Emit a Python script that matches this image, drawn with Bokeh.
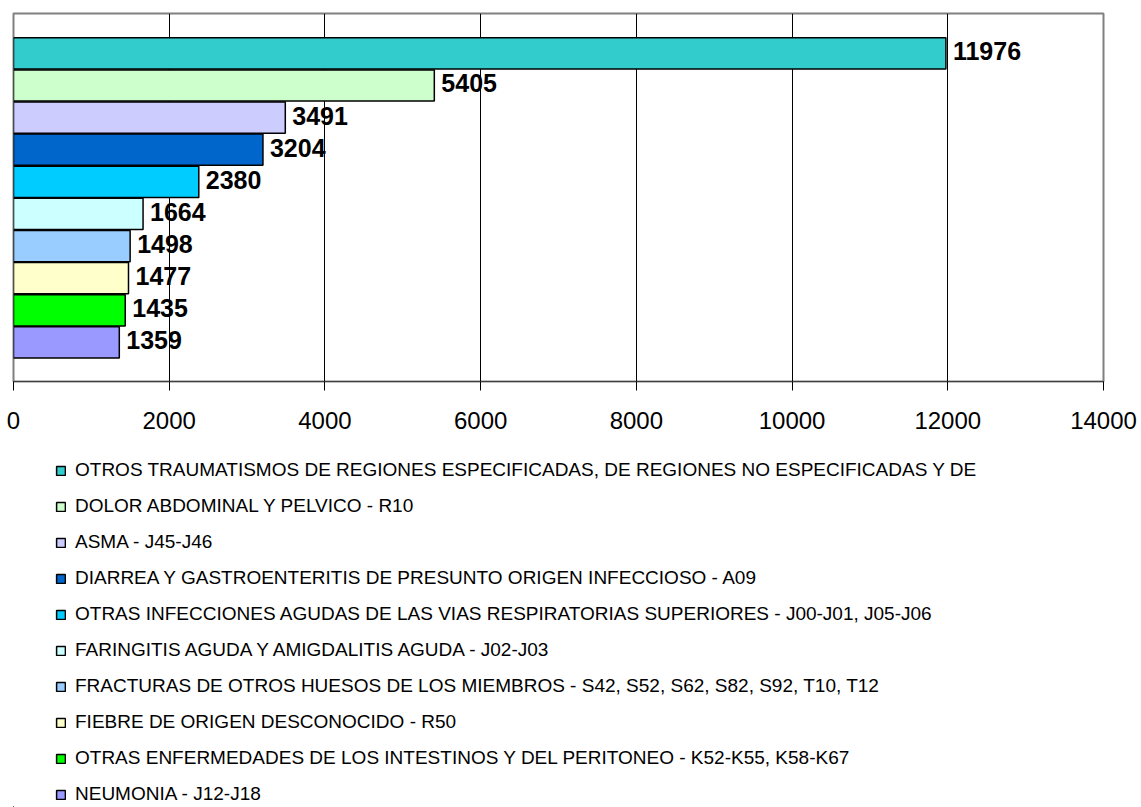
from bokeh.plotting import figure
from bokeh.layouts import column
from bokeh.models import ColumnDataSource, Range1d, FixedTicker, Legend, LegendItem
from bokeh.core.properties import value
from bokeh.embed import file_html
from bokeh.resources import INLINE

categories = [
    "OTROS TRAUMATISMOS DE REGIONES ESPECIFICADAS, DE REGIONES NO ESPECIFICADAS Y DE",
    "DOLOR ABDOMINAL Y PELVICO - R10",
    "ASMA - J45-J46",
    "DIARREA Y GASTROENTERITIS DE PRESUNTO ORIGEN INFECCIOSO - A09",
    "OTRAS INFECCIONES AGUDAS DE LAS VIAS RESPIRATORIAS SUPERIORES - J00-J01, J05-J06",
    "FARINGITIS AGUDA Y AMIGDALITIS AGUDA - J02-J03",
    "FRACTURAS DE OTROS HUESOS DE LOS MIEMBROS - S42, S52, S62, S82, S92, T10, T12",
    "FIEBRE DE ORIGEN DESCONOCIDO - R50",
    "OTRAS ENFERMEDADES DE LOS INTESTINOS Y DEL PERITONEO - K52-K55, K58-K67",
    "NEUMONIA - J12-J18",
]
values = [11976, 5405, 3491, 3204, 2380, 1664, 1498, 1477, 1435, 1359]
colors = ["#33CCCC", "#CCFFCC", "#CCCCFF", "#0066CC", "#00CCFF",
          "#CCFFFF", "#99CCFF", "#FFFFCC", "#00FF00", "#9999FF"]
x_ticks = [0, 2000, 4000, 6000, 8000, 10000, 12000, 14000]
grid_ticks = [2000, 4000, 6000, 8000, 10000, 12000]

FONT = "'Liberation Sans', Arial, sans-serif"

positions = list(range(len(categories)))
source = ColumnDataSource(dict(
    y=positions,
    v=values,
    color=colors,
    label=[str(v) for v in values],
    cat=categories,
))

# ---- main chart ----
p = figure(width=1141, height=450, output_backend="svg", toolbar_location=None,
           x_range=Range1d(0, 14000), y_range=Range1d(10.216, -1.24),
           min_border_left=13, min_border_right=38, min_border_top=13, min_border_bottom=69)

r = p.hbar(y="y", right="v", left=0, height=0.97, fill_color="color",
           line_color="black", line_width=1.5, source=source)

p.text(x="v", y="y", text="label", source=source, x_offset=7, y_offset=-2,
       text_font=value(FONT), text_font_style="bold", text_font_size="25px",
       text_baseline="middle", text_align="left", text_color="black")

p.yaxis.visible = False
p.ygrid.visible = False
p.xgrid.ticker = FixedTicker(ticks=grid_ticks)
p.xgrid.grid_line_color = "black"
p.xgrid.grid_line_width = 1

p.xaxis.ticker = FixedTicker(ticks=x_ticks)
p.xaxis.minor_tick_line_color = None
p.xaxis.major_tick_out = 9
p.xaxis.major_tick_in = 0
p.xaxis.major_tick_line_color = "black"
p.xaxis.axis_line_color = "#404040"
p.xaxis.major_label_text_font = FONT
p.xaxis.major_label_text_font_size = "24px"
p.xaxis.major_label_text_color = "black"
p.xaxis.major_label_standoff = 21

p.outline_line_color = "#808080"
p.outline_line_width = 2
p.background_fill_color = "white"
p.border_fill_color = "white"

# ---- legend panel (its glyph renderer lies far outside its ranges, only the legend shows) ----
lp = figure(width=1141, height=357, output_backend="svg", toolbar_location=None,
            x_range=Range1d(100000, 100001), y_range=Range1d(1000, 1001),
            min_border_left=0, min_border_right=0, min_border_top=0, min_border_bottom=0,
            x_axis_location=None, y_axis_location=None)
lp.grid.visible = False
lp.outline_line_color = None
lp.background_fill_color = "white"
lp.border_fill_color = "white"
lr = lp.hbar(y="y", right="v", left=0, height=0.97, fill_color="color",
             line_color="black", line_width=1.5, source=source)

items = [LegendItem(label=c, renderers=[lr], index=i) for i, c in enumerate(categories)]
legend = Legend(items=items, location=(42, 0),
                orientation="vertical", padding=0, margin=0,
                border_line_color=None, background_fill_alpha=0,
                glyph_width=11, glyph_height=11, label_height=26,
                label_standoff=9, spacing=10,
                label_text_font=FONT, label_text_font_size="19px",
                label_text_color="black")
lp.add_layout(legend, "center")

layout = column(p, lp, spacing=0)
open("out.html", "w").write(file_html(layout, INLINE))
